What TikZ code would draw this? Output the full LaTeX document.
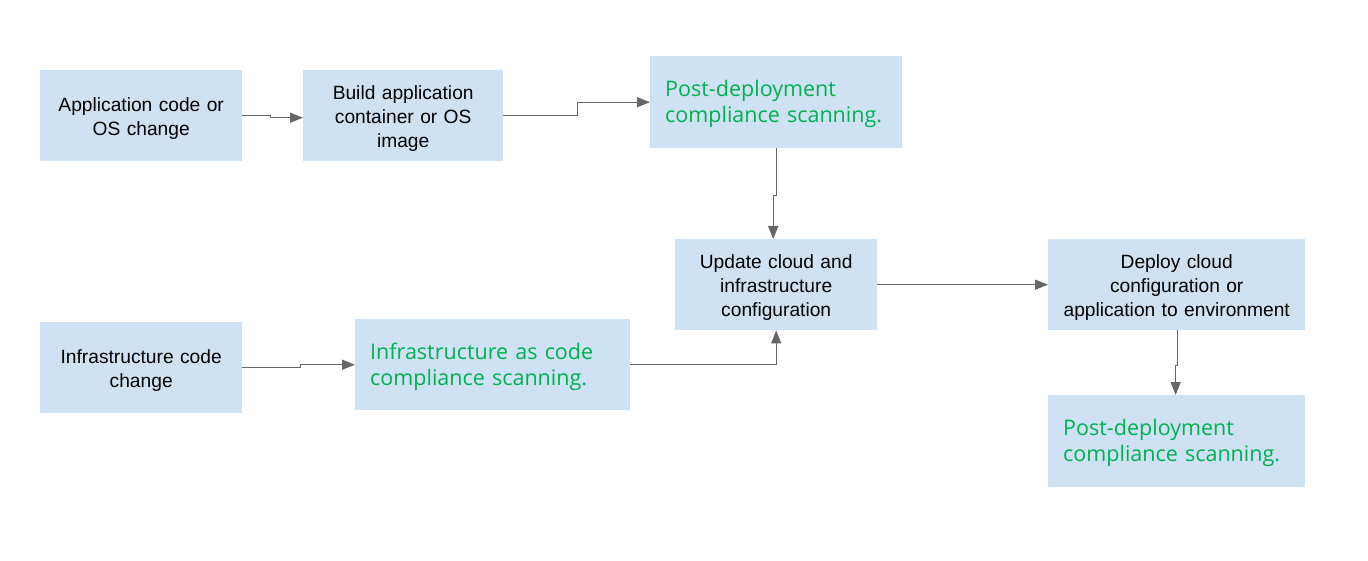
\documentclass[tikz,border=0pt]{standalone}
\usepackage{fontspec}
\setmainfont{Liberation Sans}
\newfontfamily\greenfont{Open Sans}
\usetikzlibrary{arrows.meta}
\definecolor{boxblue}{HTML}{CFE2F3}
\definecolor{okgreen}{HTML}{00B050}
\definecolor{linegray}{HTML}{666666}
\tikzset{
  box/.style={fill=boxblue, draw=none, inner sep=0pt, anchor=north west},
  blacktext/.style={inner sep=0pt, align=center, font=\fontsize{19.2}{24}\selectfont, text=black},
  greentext/.style={inner sep=0pt, anchor=west, align=left, font=\greenfont\fontsize{21.5}{26}\selectfont, text=okgreen},
  conn/.style={draw=linegray, line width=1.2pt, -{Triangle[length=13pt,width=10pt]}},
}
\begin{document}
\begin{tikzpicture}[x=1pt,y=-1pt]
\useasboundingbox (0,0) rectangle (1368,561);
% boxes
\node[box, minimum width=202pt, minimum height=91pt] (app) at (40,70) {};
\node[blacktext, text width=198pt] (appt) at ([yshift=-3pt]app.center) {Application code or\\OS change};
\node[box, minimum width=200pt, minimum height=91pt] (build) at (303,70) {};
\node[blacktext, text width=196pt] (buildt) at ([yshift=-3pt]build.center) {Build application\\container or OS\\image};
\node[box, minimum width=252pt, minimum height=92pt] (post1) at (650,56) {};
\node[greentext, text width=235pt] (post1t) at ([xshift=15pt,yshift=-2pt]post1.west) {Post-deployment\\compliance scanning.};
\node[box, minimum width=202pt, minimum height=91pt] (upd) at (675,239) {};
\node[blacktext, text width=198pt] (updt) at ([yshift=-3pt]upd.center) {Update cloud and\\infrastructure\\configuration};
\node[box, minimum width=257pt, minimum height=91pt] (deploy) at (1048,239) {};
\node[blacktext, text width=253pt] (deployt) at ([yshift=-3pt]deploy.center) {Deploy cloud\\configuration or\\application to environment};
\node[box, minimum width=257pt, minimum height=92pt] (post2) at (1048,395) {};
\node[greentext, text width=240pt] (post2t) at ([xshift=15pt,yshift=-2pt]post2.west) {Post-deployment\\compliance scanning.};
\node[box, minimum width=202pt, minimum height=91pt] (infra) at (40,322) {};
\node[blacktext, text width=198pt] (infrat) at ([yshift=-3pt]infra.center) {Infrastructure code\\change};
\node[box, minimum width=275pt, minimum height=91pt] (iac) at (355,319) {};
\node[greentext, text width=258pt] (iact) at ([xshift=15pt,yshift=-2pt]iac.west) {Infrastructure as code\\compliance scanning.};
% connectors
\draw[conn] (app.east) -- ++(28,0) |- ([yshift=-2pt]build.west);
\draw[conn] (build.east) -- ++(74,0) |- (post1.west);
\draw[conn] (post1.south) -- ++(0,47) -| ([xshift=-3pt]upd.north);
\draw[conn] (infra.east) -- ++(58,0) |- (iac.west);
\draw[conn] (iac.east) -| (upd.south);
\draw[conn] (upd.east) -- (deploy.west);
\draw[conn] ([xshift=1pt]deploy.south) -- ++(0,35) -| ([xshift=-1pt]post2.north);
\end{tikzpicture}
\end{document}
